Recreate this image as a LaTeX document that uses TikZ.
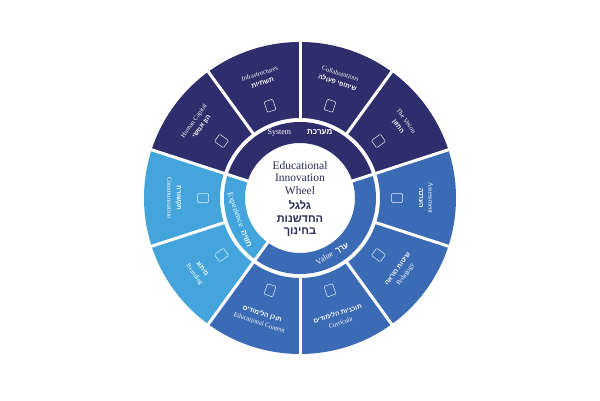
\documentclass[tikz,border=0pt]{standalone}
\usepackage{fontspec}
\setmainfont{Liberation Serif}
\newfontfamily\heb[Script=Hebrew]{Liberation Sans}
\TeXXeTstate=1
\definecolor{navy}{HTML}{2D2E6B}
\definecolor{midb}{HTML}{3A6BB4}
\definecolor{lightb}{HTML}{44A5DC}
\definecolor{titlec}{HTML}{2A2C55}
\newcommand{\hb}[1]{{\heb\bfseries\beginR #1\endR}}
\tikzset{
  seglabel/.style={text=white,font=\fontsize{6.5}{9.5}\selectfont,align=center,inner sep=0pt},
  ringlabel/.style={text=white,font=\fontsize{8}{10}\selectfont,inner sep=0pt},
  icon/.style={draw=white!85!lightb,line width=0.5pt,rounded corners=1pt,minimum width=9pt,minimum height=11pt,inner sep=0pt}
}
\begin{document}
\begin{tikzpicture}[x=1pt,y=1pt]
\useasboundingbox (0,0) rectangle (600,400);
\fill[white] (0,0) rectangle (600,400);
\begin{scope}[shift={(300,202)}]
% outer sectors
\foreach \a/\c in {90/navy,126/navy,162/lightb,198/lightb,234/midb,270/midb,306/midb,342/midb,18/navy,54/navy}{
  \pgfmathsetmacro{\b}{\a+36}
  \fill[\c] (\a:80pt) -- (\a:156pt) arc[start angle=\a,end angle=\b,radius=156pt] -- (\b:80pt) arc[start angle=\b,end angle=\a,radius=80pt] -- cycle;
}
\foreach \a in {90,126,162,198,234,270,306,342,18,54}{
  \draw[white,line width=3pt] (\a:79pt) -- (\a:158pt);
}
% middle ring
\fill[navy] (18:55pt) -- (18:76pt) arc[start angle=18,end angle=162,radius=76pt] -- (162:55pt) arc[start angle=162,end angle=18,radius=55pt] -- cycle;
\fill[lightb] (162:55pt) -- (162:76pt) arc[start angle=162,end angle=234,radius=76pt] -- (234:55pt) arc[start angle=234,end angle=162,radius=55pt] -- cycle;
\fill[midb] (234:55pt) -- (234:76pt) arc[start angle=234,end angle=378,radius=76pt] -- (378:55pt) arc[start angle=378,end angle=234,radius=55pt] -- cycle;
\foreach \a in {18,162,234}{\draw[white,line width=3pt] (\a:54pt) -- (\a:77pt);}
% ring labels
\node[ringlabel] (sys) at (90:65pt) {System\qquad\hb{מערכת}};
\node[ringlabel,rotate=290] (exp) at (200:65pt) {Experience\ \ \hb{חוויה}};
\node[ringlabel,rotate=30] (val) at (300:65pt) {Value\ \ \hb{ערך}};
% outer labels
\node[seglabel,rotate=18] (infra) at (108:126pt) {Infrastructures\\\hb{תשתיות}};
\node[seglabel,rotate=54] (human) at (144:126pt) {Human Capital\\\hb{הון אנושי}};
\node[seglabel,rotate=-90] (comm) at (180:126pt) {\hb{תקשורת}\\Communication};
\node[seglabel,rotate=-54] (brand) at (216:126pt) {\hb{מיתוג}\\Branding};
\node[seglabel,rotate=-18] (educ) at (252:126pt) {\hb{תוכן הלימודים}\\Educational Content};
\node[seglabel,rotate=18] (curr) at (288:126pt) {\hb{תוכניות הלימודים}\\Curricula};
\node[seglabel,rotate=54] (peda) at (324:126pt) {\hb{שיטות הוראה}\\Pedagogy};
\node[seglabel,rotate=-90] (assess) at (0:126pt) {Assessment\\\hb{הערכה}};
\node[seglabel,rotate=-54] (vision) at (36:126pt) {The Vision\\\hb{החזון}};
\node[seglabel,rotate=-18] (collab) at (72:126pt) {Collaborations\\\hb{שיתופי פעולה}};
% icons
\foreach \a/\r/\n in {108/18/i1,144/54/i2,180/-90/i3,216/-54/i4,252/-18/i5,288/18/i6,324/54/i7,0/-90/i8,36/-54/i9,72/-18/i10}{
  \node[icon,rotate=\r] (\n) at (\a:97pt) {};
}
% center
\fill[white] (0,0) circle (52pt);
\node[text=titlec,font=\fontsize{11.5}{12.5}\selectfont,align=center] (t1) at (0,20) {Educational\\Innovation\\Wheel};
\node[text=titlec,font=\fontsize{11}{12.5}\selectfont,align=center] (t2) at (0,-21) {\hb{גלגל}\\\hb{החדשנות}\\\hb{בחינוך}};
\end{scope}
\end{tikzpicture}
\end{document}
